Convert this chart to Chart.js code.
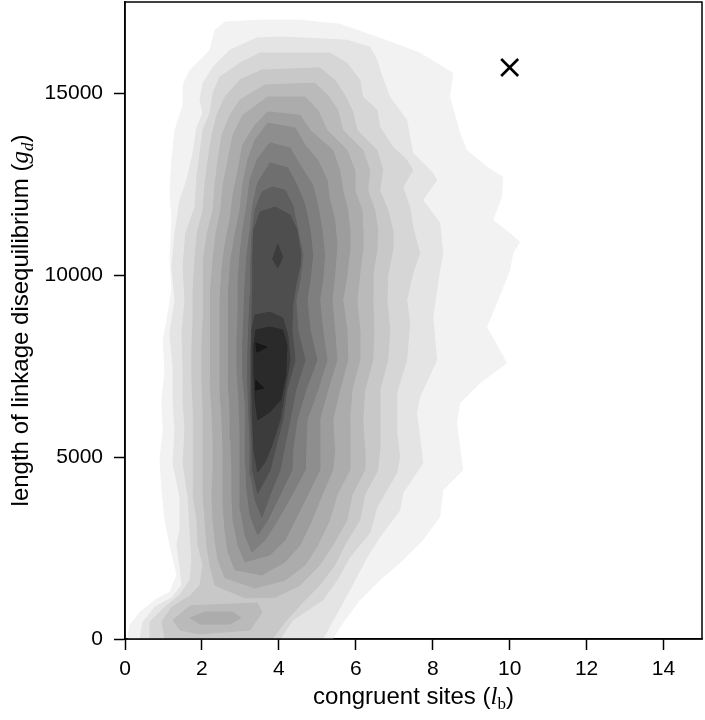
<!DOCTYPE html>
<html>
<head>
<meta charset="utf-8">
<script src="https://cdn.jsdelivr.net/npm/chart.js@4.4.1/dist/chart.umd.min.js"></script>
<style>
  html, body { margin: 0; padding: 0; background: #fff; }
  #wrap { width: 705px; height: 720px; }
</style>
</head>
<body>
<div id="wrap"><canvas id="chart"></canvas></div>
<script>
// contour outlines, as [congruent sites, g_d] pairs
const level1 = [[0.08,0],[0.13,385],[0.39,740],[0.78,1070],[1.17,1290],[1.35,1760],[1.17,2580],[1.04,3270],[0.96,4090],[0.91,4920],[0.99,5740],[0.96,6570],[1.04,7390],[0.99,8210],[1.09,8760],[1.22,9590],[1.17,10410],[1.22,11510],[1.17,12330],[1.22,13160],[1.3,13980],[1.51,14670],[1.51,15220],[1.69,15630],[1.95,15900],[2.21,16180],[2.34,16730],[2.6,16950],[3.51,17000],[4.55,17000],[5.58,16890],[6.62,16510],[7.66,16100],[8.52,15550],[8.44,14890],[8.7,13900],[8.88,13430],[9.4,12970],[9.82,12690],[9.79,12140],[9.56,11510],[10.0,11150],[10.26,10910],[10.08,10600],[10.0,10140],[9.69,9310],[9.4,8570],[9.92,7580],[9.22,7030],[8.7,6480],[8.62,5930],[8.78,4640],[8.26,4090],[8.18,3350],[7.74,2720],[7.14,2090],[6.62,1620],[6.1,1070],[5.58,330],[5.4,0]];
const level2 = [[0.39,0],[0.47,470],[0.78,880],[1.22,1130],[1.48,1480],[1.43,1980],[1.35,2580],[1.43,2990],[1.43,3900],[1.25,4830],[1.3,5740],[1.25,6570],[1.25,7470],[1.17,8410],[1.3,9310],[1.22,10220],[1.3,11150],[1.43,12060],[1.61,12610],[1.77,13350],[1.87,14060],[2.03,14450],[1.95,14810],[2.03,15270],[2.29,15710],[2.73,16180],[3.43,16510],[4.03,16540],[5.77,16450],[6.36,16260],[6.55,15900],[6.62,15630],[6.88,14890],[7.32,14260],[7.48,13350],[8.0,12800],[8.1,12610],[7.74,12060],[8.18,11430],[8.26,10600],[8.18,10140],[8.0,8850],[8.1,7660],[7.66,6650],[7.58,6210],[7.66,5550],[7.74,4830],[7.22,4010],[7.14,3540],[6.62,2800],[6.29,2250],[5.84,1350],[5.51,710],[5.14,0]];
const level3 = [[0.65,0],[0.65,470],[1.04,880],[1.43,1210],[1.69,1620],[1.74,2170],[1.69,2990],[1.64,3900],[1.51,4830],[1.56,5740],[1.51,6570],[1.51,7470],[1.48,8410],[1.56,9310],[1.51,10220],[1.58,11150],[1.82,11870],[1.87,12690],[1.95,13350],[2.03,13980],[2.21,14450],[2.29,15000],[2.47,15440],[2.99,15820],[3.51,16100],[5.32,16100],[5.77,15820],[6.1,15360],[6.18,14890],[6.55,14530],[6.62,14060],[6.96,13520],[7.32,13160],[7.48,12880],[7.22,12420],[7.4,11870],[7.48,11320],[7.66,10600],[7.48,10050],[7.32,9310],[7.4,8680],[7.32,7660],[7.06,6760],[7.06,5660],[7.14,5000],[7.06,4560],[6.55,3630],[6.36,2910],[5.84,2250],[5.51,1620],[5.14,1070],[4.36,520],[4.03,0]];
const level4 = [[1.04,0],[0.96,470],[1.22,880],[1.69,1180],[1.95,1480],[2.03,2030],[1.9,2580],[1.87,3270],[1.77,3960],[1.77,4640],[1.77,5470],[1.79,6290],[1.74,7110],[1.74,7940],[1.77,8760],[1.77,9590],[1.82,10410],[1.87,11100],[2.03,11780],[2.08,12470],[2.16,13160],[2.26,13840],[2.39,14390],[2.6,14890],[2.99,15360],[3.56,15630],[5.06,15690],[5.45,15360],[5.71,14940],[5.92,14480],[6.03,13980],[6.55,13430],[6.7,12880],[6.62,12330],[6.83,11780],[6.96,11240],[6.96,10690],[6.83,10000],[6.81,9310],[6.88,8490],[6.83,7660],[6.62,6840],[6.62,6020],[6.62,5190],[6.57,4640],[6.23,3960],[6.1,3270],[5.71,2580],[5.45,2030],[5.06,1480],[4.55,930],[4.16,470],[3.82,0]];
const level5 = [[2.34,1480],[2.21,2030],[2.13,2580],[2.08,3270],[2.03,3960],[2.03,4640],[2.03,5470],[2.03,6290],[2.0,7110],[2.0,7940],[2.03,8760],[2.03,9590],[2.05,10410],[2.13,11100],[2.29,11780],[2.34,12470],[2.42,13160],[2.52,13840],[2.73,14390],[2.99,14810],[3.64,15220],[4.94,15270],[5.27,14940],[5.53,14530],[5.66,13980],[6.18,13430],[6.36,12880],[6.31,12330],[6.49,11780],[6.57,11240],[6.55,10690],[6.44,10000],[6.44,9310],[6.47,8490],[6.44,7660],[6.23,6840],[6.18,6020],[6.23,5190],[6.23,4640],[5.9,3960],[5.77,3270],[5.4,2580],[5.06,2030],[4.55,1480],[3.9,1150],[3.12,1130]];
const blob5 = [[1.25,520],[1.69,910],[3.43,990],[3.56,740],[3.25,250],[1.95,140],[1.43,250]];
const level6 = [[2.6,1680],[2.42,2170],[2.34,2720],[2.29,3270],[2.26,3960],[2.29,4640],[2.29,5470],[2.26,6290],[2.21,7110],[2.21,7940],[2.23,8760],[2.23,9590],[2.29,10410],[2.36,11100],[2.49,11780],[2.55,12470],[2.68,13160],[2.81,13840],[3.06,14390],[3.71,14890],[4.68,14890],[5.01,14530],[5.25,13980],[5.77,13430],[5.97,12880],[5.97,12330],[6.16,11780],[6.18,11240],[6.18,10690],[6.1,10000],[6.03,9310],[6.1,8490],[6.1,7660],[5.9,6840],[5.84,6020],[5.84,5190],[5.84,4640],[5.51,3960],[5.32,3270],[5.01,2580],[4.68,2030],[4.16,1620],[3.38,1400]];
const blob6 = [[1.69,580],[2.08,740],[2.81,740],[3.01,580],[2.73,410],[1.95,410]];
const level7 = [[2.86,1900],[2.68,2390],[2.6,2990],[2.55,3680],[2.55,4370],[2.55,5190],[2.52,6020],[2.47,6840],[2.47,7660],[2.47,8490],[2.47,9310],[2.52,10140],[2.6,10820],[2.73,11510],[2.81,12200],[2.94,12880],[3.06,13570],[3.38,14120],[3.71,14480],[4.55,14390],[4.81,13980],[5.4,13430],[5.58,12880],[5.66,12330],[5.79,11780],[5.84,11240],[5.84,10690],[5.77,10000],[5.66,9310],[5.77,8490],[5.79,7660],[5.58,6840],[5.4,6020],[5.45,5190],[5.4,4640],[5.12,3960],[4.86,3270],[4.55,2580],[4.16,2120],[3.56,1760]];
const level8 = [[3.12,2120],[2.94,2580],[2.81,3270],[2.78,3960],[2.78,4640],[2.75,5470],[2.73,6290],[2.68,7110],[2.68,7940],[2.7,8760],[2.7,9590],[2.75,10410],[2.86,11100],[2.99,11780],[3.06,12470],[3.19,13160],[3.38,13710],[3.71,14170],[4.42,14040],[4.68,13570],[5.01,13160],[5.25,12610],[5.32,12060],[5.45,11510],[5.51,10820],[5.45,10000],[5.38,9310],[5.45,8490],[5.51,7660],[5.27,6840],[5.06,6020],[5.06,5190],[5.06,4640],[4.75,3960],[4.42,3270],[4.16,2720],[3.77,2310]];
const level9 = [[3.3,2390],[3.12,2860],[3.01,3540],[2.99,4230],[2.99,4920],[2.99,5740],[2.96,6570],[2.91,7390],[2.91,8210],[2.94,9040],[2.94,9860],[2.99,10550],[3.06,11240],[3.17,11920],[3.25,12610],[3.43,13160],[3.77,13630],[4.29,13490],[4.55,13020],[4.88,12470],[5.01,11920],[5.12,11240],[5.19,10550],[5.14,9860],[5.06,9310],[5.14,8490],[5.25,7660],[5.01,6840],[4.73,6020],[4.7,5190],[4.68,4640],[4.34,3960],[3.97,3270],[3.64,2720]];
const level10 = [[3.45,2860],[3.25,3410],[3.17,4090],[3.14,4780],[3.14,5600],[3.12,6430],[3.06,7250],[3.06,8080],[3.09,8900],[3.12,9720],[3.17,10550],[3.25,11240],[3.32,11920],[3.45,12530],[3.77,13080],[4.23,12940],[4.47,12470],[4.68,11920],[4.81,11240],[4.88,10550],[4.81,9860],[4.73,9310],[4.81,8490],[4.99,7660],[4.7,6840],[4.47,6020],[4.36,5190],[4.34,4640],[4.03,3960],[3.71,3270]];
const level11 = [[3.56,3350],[3.38,3820],[3.27,4500],[3.25,5330],[3.22,6150],[3.19,6980],[3.19,7800],[3.22,8630],[3.25,9450],[3.27,10270],[3.3,11100],[3.38,11780],[3.56,12280],[3.84,12420],[4.16,12330],[4.36,11920],[4.49,11240],[4.62,10550],[4.55,9860],[4.44,9310],[4.49,8490],[4.68,7660],[4.44,6840],[4.29,6020],[4.13,5190],[4.03,4640],[3.77,3960]];
const level12 = [[3.45,4010],[3.32,4640],[3.3,5470],[3.27,6290],[3.27,7110],[3.27,7940],[3.3,8760],[3.32,9590],[3.32,10410],[3.35,11240],[3.51,11730],[3.9,11870],[4.29,11650],[4.47,11240],[4.55,10690],[4.55,10270],[4.44,9720],[4.36,9170],[4.34,8490],[4.42,7660],[4.21,6840],[4.1,6020],[3.9,5190],[3.77,4640]];
const level13 = [[3.45,4590],[3.35,5190],[3.32,6020],[3.3,6840],[3.3,7660],[3.3,8490],[3.38,8900],[3.77,8980],[4.1,8820],[4.23,8350],[4.29,7660],[4.16,6840],[4.03,6020],[3.82,5330],[3.64,4860]];
const spot13 = [[3.97,10850],[4.1,10490],[3.97,10190],[3.84,10440]];
const level14 = [[3.45,6020],[3.38,6570],[3.35,7390],[3.35,8080],[3.4,8490],[3.77,8570],[4.1,8490],[4.21,8080],[4.18,7250],[4.05,6570],[3.77,6240]];
const spot15a = [[3.4,8130],[3.69,8020],[3.43,7880]];
const spot15b = [[3.4,7110],[3.61,6890],[3.38,6840]];

// the observed point (cross)
const observed = [[10, 15700]];

const xTicks = [0, 2, 4, 6, 8, 10, 12, 14];
const yTicks = [0, 5000, 10000, 15000];

const shades = ['#f2f2f2', '#e4e4e4', '#d6d6d6', '#c8c8c8', '#bababa', '#acacac', '#9d9d9d',
  '#8e8e8e', '#7f7f7f', '#6f6f6f', '#5f5f5f', '#4e4e4e', '#3c3c3c', '#2a2a2a', '#171717'];

// outline -> contour level index (lighter first)
const regions = [
  [level1, 0], [level2, 1], [level3, 2], [level4, 3], [level5, 4], [blob5, 4],
  [level6, 5], [blob6, 5], [level7, 6], [level8, 7], [level9, 8], [level10, 9],
  [level11, 10], [level12, 11], [level13, 12], [spot13, 12], [level14, 13],
  [spot15a, 14], [spot15b, 14]
];

const FONT = '"Liberation Sans", Arial, Helvetica, sans-serif';
const SERIF = '"Liberation Serif", "DejaVu Serif", serif';

const datasets = regions.map(([pts, lvl], i) => ({
  type: 'scatter',
  data: pts.concat([pts[0]]).map(([x, y]) => ({x, y})),
  showLine: true,
  fill: 'shape',
  backgroundColor: shades[lvl],
  borderColor: shades[lvl],
  borderWidth: 1,
  pointRadius: 0,
  pointHoverRadius: 0,
  tension: 0,
  order: 100 - i
}));

datasets.push({
  type: 'scatter',
  data: observed.map(([x, y]) => ({x, y})),
  pointStyle: 'crossRot',
  pointRadius: 12,
  borderColor: '#000',
  borderWidth: 2.6,
  order: 0
});

function drawParts(ctx, parts) {
  let total = 0;
  parts.forEach(p => { ctx.font = p[1]; total += ctx.measureText(p[0]).width; });
  let x = -total / 2;
  parts.forEach(p => {
    ctx.font = p[1];
    ctx.fillText(p[0], x, p[2]);
    x += ctx.measureText(p[0]).width;
  });
}

const axisTitles = {
  id: 'axisTitles',
  afterDraw(chart) {
    const {ctx, chartArea: a} = chart;
    ctx.save();
    ctx.strokeStyle = '#000';
    ctx.lineWidth = 1.5;
    ctx.strokeRect(a.left, a.top, a.right - a.left, a.bottom - a.top);
    ctx.fillStyle = '#000';
    ctx.textAlign = 'left';
    ctx.textBaseline = 'alphabetic';
    ctx.translate((a.left + a.right) / 2, 704);
    drawParts(ctx, [
      ['congruent sites (', '24px ' + FONT, 0],
      ['l', 'italic 25px ' + SERIF, 0],
      ['b', '17px ' + SERIF, 5],
      [')', '24px ' + FONT, 0]
    ]);
    ctx.restore();

    ctx.save();
    ctx.fillStyle = '#000';
    ctx.textAlign = 'left';
    ctx.textBaseline = 'alphabetic';
    ctx.translate(28, (a.top + a.bottom) / 2);
    ctx.rotate(-Math.PI / 2);
    drawParts(ctx, [
      ['length of linkage disequilibrium (', '24px ' + FONT, 0],
      ['g', 'italic 25px ' + SERIF, 0],
      ['d', 'italic 17px ' + SERIF, 5],
      [')', '24px ' + FONT, 0]
    ]);
    ctx.restore();
  }
};

new Chart(document.getElementById('chart'), {
  type: 'scatter',
  data: { datasets },
  options: {
    responsive: true,
    maintainAspectRatio: false,
    animation: false,
    layout: { autoPadding: false, padding: { top: 2, right: 3, left: 0, bottom: 0 } },
    plugins: { legend: { display: false }, tooltip: { enabled: false } },
    scales: {
      x: {
        type: 'linear',
        min: 0,
        max: 15,
        afterBuildTicks: s => { s.ticks = xTicks.map(v => ({value: v})); },
        afterFit: s => { s.height = 81; s.paddingLeft = 0; s.paddingRight = 0; },
        ticks: { color: '#000', font: { family: FONT, size: 21 }, padding: 7, maxRotation: 0 },
        grid: { drawOnChartArea: false, drawTicks: true, tickLength: 11, tickColor: '#000', tickWidth: 1.5 },
        border: { display: true, color: '#000', width: 1.5 }
      },
      y: {
        type: 'linear',
        min: 0,
        max: 17500,
        afterBuildTicks: s => { s.ticks = yTicks.map(v => ({value: v})); },
        afterFit: s => { s.width = 125; s.paddingTop = 0; s.paddingBottom = 0; },
        ticks: { color: '#000', font: { family: FONT, size: 21 }, padding: 11, callback: v => String(v) },
        grid: { drawOnChartArea: false, drawTicks: true, tickLength: 11, tickColor: '#000', tickWidth: 1.5 },
        border: { display: true, color: '#000', width: 1.5 }
      }
    }
  },
  plugins: [axisTitles]
});
</script>
</body>
</html>
